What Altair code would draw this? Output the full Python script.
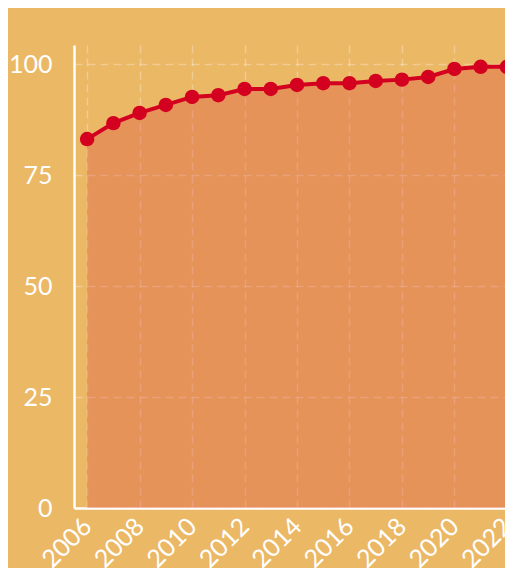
import altair as alt
import pandas as pd

years = list(range(2006, 2023))
values = [83.1, 86.7, 89.0, 90.8, 92.6, 93.0, 94.4, 94.4, 95.3, 95.7,
          95.7, 96.2, 96.5, 97.1, 98.9, 99.4, 99.4]
x_ticks = [2006, 2008, 2010, 2012, 2014, 2016, 2018, 2020, 2022]
y_ticks = [0, 25, 50, 75, 100]

df = pd.DataFrame({"year": years, "value": values})

BG = "#EBB866"
RED = "#D4001F"

x = alt.X("year:Q",
          scale=alt.Scale(domain=[2005.5, 2022.5], nice=False, zero=False, range=[0, 446]),
          axis=alt.Axis(values=x_ticks, format="d", labelAngle=315, labelAlign="right",
                        labelBaseline="middle", labelPadding=14, labelOverlap=False,
                        labelBound=False, labelFlush=False, title=None))
y = alt.Y("value:Q", scale=alt.Scale(domain=[0, 104.3], nice=False),
          axis=alt.Axis(values=y_ticks, labelPadding=22, title=None))

base = alt.Chart(df).encode(x=x, y=y)
area = base.mark_area(color="#DC4E44", opacity=0.35)
line = base.mark_line(color=RED, strokeWidth=4)
pts = base.mark_circle(color=RED, opacity=1, size=210)

chart = alt.layer(area, line, pts).properties(
    width=431, height=463,
    autosize=alt.AutoSizeParams(type="none"),
    padding={"left": 66, "top": 37, "right": 0, "bottom": 60},
    background=BG,
).configure_view(stroke=None).configure_axis(
    domainColor="white", domainWidth=2.5, ticks=False,
    labelColor="white", labelFont="Lato", labelFontSize=25,
    grid=True, gridColor="white", gridOpacity=0.3, gridDash=[8, 5], gridWidth=1.5,
)

chart.save("out.html", embed_options={"renderer": "svg", "actions": False})
